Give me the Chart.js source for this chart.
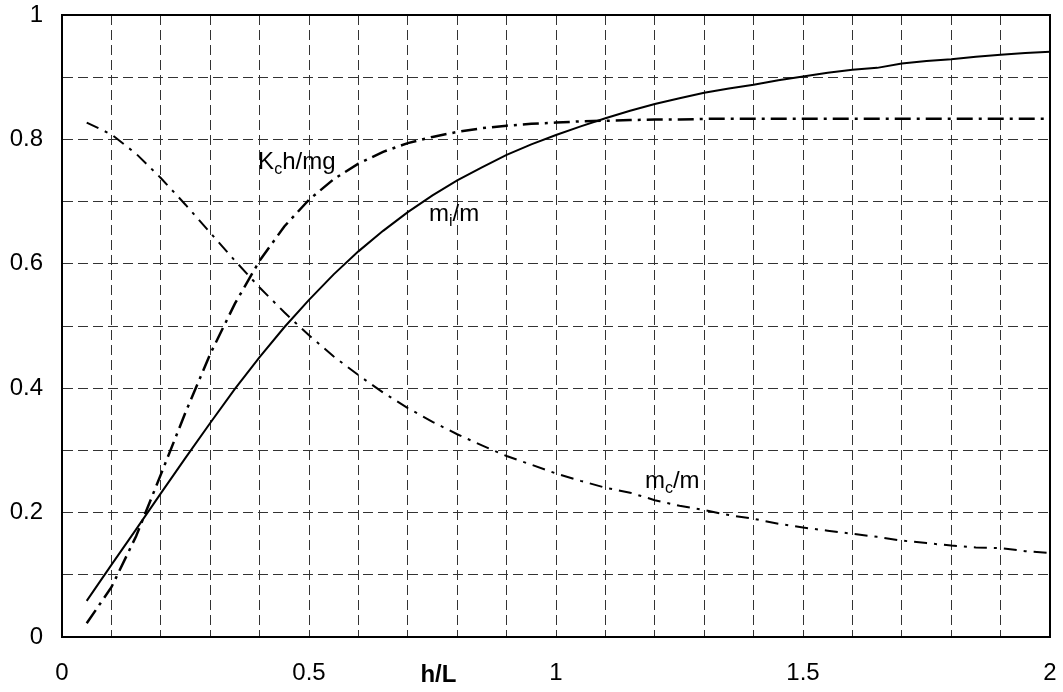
<!DOCTYPE html>
<html>
<head>
<meta charset="utf-8">
<script src="https://cdn.jsdelivr.net/npm/chart.js@4/dist/chart.umd.min.js"></script>
<style>
  html, body { margin: 0; padding: 0; background: #fff; }
  #wrap { width: 1063px; height: 692px; }
</style>
</head>
<body>
<div id="wrap"><canvas id="chart"></canvas></div>
<script>
// h/L ratios the curves were sampled at
const hL = [0.05, 0.1, 0.15, 0.2, 0.25, 0.3, 0.35, 0.4, 0.45, 0.5,
  0.55, 0.6, 0.65, 0.7, 0.75, 0.8, 0.85, 0.9, 0.95, 1.0,
  1.05, 1.1, 1.15, 1.2, 1.25, 1.3, 1.35, 1.4, 1.45, 1.5,
  1.55, 1.6, 1.65, 1.7, 1.75, 1.8, 1.85, 1.9, 1.95, 2.0];

// impulsive mass ratio m_i/m
const miRatio = [0.058, 0.116, 0.173, 0.231, 0.288, 0.344, 0.399, 0.450, 0.498, 0.542,
  0.583, 0.620, 0.653, 0.683, 0.710, 0.734, 0.755, 0.775, 0.792, 0.807,
  0.821, 0.834, 0.846, 0.857, 0.866, 0.875, 0.882, 0.888, 0.895, 0.901,
  0.907, 0.912, 0.915, 0.922, 0.926, 0.929, 0.933, 0.936, 0.939, 0.941];

// convective mass ratio m_c/m
const mcRatio = [0.827, 0.808, 0.777, 0.738, 0.695, 0.650, 0.605, 0.562, 0.522, 0.485,
  0.451, 0.421, 0.393, 0.368, 0.346, 0.326, 0.308, 0.291, 0.277, 0.263,
  0.251, 0.240, 0.232, 0.220, 0.211, 0.204, 0.196, 0.190, 0.182, 0.176,
  0.171, 0.166, 0.161, 0.155, 0.151, 0.147, 0.144, 0.143, 0.138, 0.135];

// convective spring stiffness K_c h/(m g)
const kcRatio = [0.022, 0.080, 0.162, 0.261, 0.361, 0.455, 0.536, 0.605, 0.660, 0.703,
  0.736, 0.761, 0.780, 0.794, 0.804, 0.812, 0.818, 0.822, 0.825, 0.827,
  0.829, 0.830, 0.831, 0.832, 0.832, 0.833, 0.833, 0.833, 0.833, 0.833,
  0.833, 0.833, 0.833, 0.833, 0.833, 0.833, 0.833, 0.833, 0.833, 0.833];

const FONT = "'Liberation Sans', Arial, sans-serif";
const FONT_SIZE = 24;

// curve captions, placed in data units; parts flagged true are subscripts
const curveLabels = [
  { at: [0.397, 0.752], parts: [["K", false], ["c", true], ["h/mg", false]] },
  { at: [0.743, 0.669], parts: [["m", false], ["i", true], ["/m", false]] },
  { at: [1.18, 0.24], parts: [["m", false], ["c", true], ["/m", false]] },
];

function toPoints(ys) {
  return ys.map((y, i) => ({ x: hL[i], y: y }));
}

function drawParts(ctx, x, y, parts) {
  ctx.textBaseline = "alphabetic";
  ctx.textAlign = "left";
  parts.forEach(([txt, sub]) => {
    if (sub) {
      ctx.font = Math.round(FONT_SIZE * 0.65) + "px " + FONT;
      ctx.fillText(txt, x, y + 5);
    } else {
      ctx.font = FONT_SIZE + "px " + FONT;
      ctx.fillText(txt, x, y);
    }
    x += ctx.measureText(txt).width;
  });
}

const frameAndLabels = {
  id: "frameAndLabels",
  afterDraw(chart) {
    const ctx = chart.ctx;
    const area = chart.chartArea;
    const xs = chart.scales.x;
    const ys = chart.scales.y;
    ctx.save();
    // box round the plot
    ctx.strokeStyle = "#000";
    ctx.lineWidth = 2;
    ctx.setLineDash([]);
    ctx.strokeRect(area.left, area.top, area.right - area.left, area.bottom - area.top);

    ctx.fillStyle = "#000";
    curveLabels.forEach((lbl) => {
      drawParts(ctx, xs.getPixelForValue(lbl.at[0]), ys.getPixelForValue(lbl.at[1]), lbl.parts);
    });

    // axis name sits left of centre, between the 0.5 and 1 labels
    ctx.font = "bold " + FONT_SIZE + "px " + FONT;
    ctx.textAlign = "center";
    ctx.textBaseline = "alphabetic";
    ctx.fillText("h/L", xs.getPixelForValue(0.762), area.bottom + 45);
    ctx.restore();
  },
};

const gridStyle = {
  color: "#333",
  lineWidth: 1,
  drawTicks: false,
};

new Chart(document.getElementById("chart"), {
  type: "line",
  data: {
    datasets: [
      {
        label: "mi/m",
        data: toPoints(miRatio),
        borderColor: "#000",
        borderWidth: 2,
        pointRadius: 0,
        tension: 0,
      },
      {
        label: "mc/m",
        data: toPoints(mcRatio),
        borderColor: "#000",
        borderWidth: 2,
        borderDash: [13, 7, 3, 7],
        pointRadius: 0,
        tension: 0,
      },
      {
        label: "Kch/mg",
        data: toPoints(kcRatio),
        borderColor: "#000",
        borderWidth: 2.5,
        borderDash: [16, 6, 3, 6],
        pointRadius: 0,
        tension: 0,
      },
    ],
  },
  options: {
    responsive: true,
    maintainAspectRatio: false,
    animation: false,
    layout: { padding: { top: 15, right: 13, left: 0, bottom: 0 } },
    plugins: {
      legend: { display: false },
      tooltip: { enabled: false },
    },
    scales: {
      x: {
        type: "linear",
        min: 0,
        max: 2,
        grid: gridStyle,
        border: { display: true, color: "#000", width: 2, dash: [10, 5] },
        ticks: {
          stepSize: 0.1,
          autoSkip: false,
          maxRotation: 0,
          padding: 22,
          color: "#000",
          font: { family: FONT, size: FONT_SIZE },
          callback: (v) => {
            const n = Math.round(v * 10);
            return n % 5 === 0 ? String(n / 10) : "";
          },
        },
        afterFit: (scale) => {
          scale.height = 55;
          scale.paddingLeft = 0;
          scale.paddingRight = 0;
        },
      },
      y: {
        min: 0,
        max: 1,
        grid: gridStyle,
        border: { display: true, color: "#000", width: 2, dash: [10, 5] },
        ticks: {
          stepSize: 0.1,
          autoSkip: false,
          padding: 19,
          color: "#000",
          font: { family: FONT, size: FONT_SIZE },
          callback: (v) => {
            const n = Math.round(v * 10);
            return n % 2 === 0 ? String(n / 10) : "";
          },
        },
        afterFit: (scale) => {
          scale.width = 62;
          scale.paddingTop = 0;
          scale.paddingBottom = 0;
        },
      },
    },
  },
  plugins: [frameAndLabels],
});
</script>
</body>
</html>
